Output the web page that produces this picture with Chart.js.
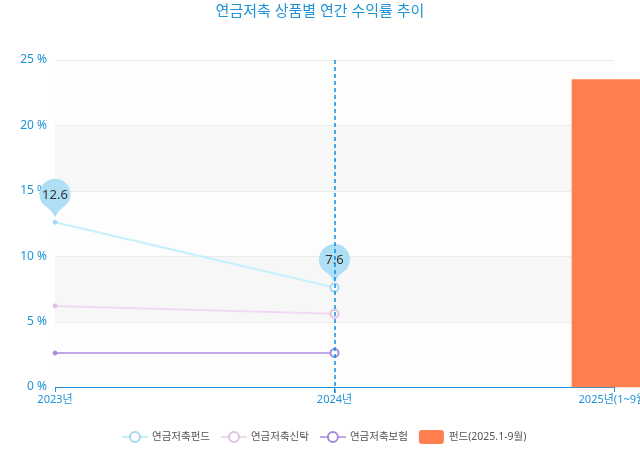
<!DOCTYPE html>
<html>
<head>
<meta charset="utf-8">
<script src="https://cdn.jsdelivr.net/npm/chart.js@4/dist/chart.umd.min.js"></script>
<style>
html,body{margin:0;padding:0;background:#fff;}
#wrap{width:640px;height:450px;position:relative;}
</style>
</head>
<body>
<div id="wrap"><canvas id="c" width="640" height="450"></canvas></div>
<script>
const titleText = '연금저축 상품별 연간 수익률 추이';
const categories = ['2023년', '2024년', '2025년(1~9월)'];
const fundLabel = '연금저축펀드';
const fundValues = [12.6, 7.6, null];
const trustLabel = '연금저축신탁';
const trustValues = [6.2, 5.6, null];
const insLabel = '연금저축보험';
const insValues = [2.6, 2.6, null];
const barLabel = '펀드(2025.1-9월)';
const barValues = [null, null, 23.5];
const yTicks = [0, 5, 10, 15, 20, 25];
const pinPoints = [{series: 0, index: 0}, {series: 0, index: 1}];
const markLineCategory = '2024년';

const BLUE = '#1f93d6';
const FONT = "'Noto Sans', 'Noto Sans CJK KR', sans-serif";

const bandPlugin = {
  id: 'bands',
  beforeDatasetsDraw(chart) {
    const {ctx, chartArea, scales: {y}} = chart;
    ctx.save();
    for (let i = 0; i < yTicks.length - 1; i++) {
      const top = y.getPixelForValue(yTicks[i + 1]);
      const bot = y.getPixelForValue(yTicks[i]);
      ctx.fillStyle = i % 2 === 1 ? '#f7f7f7' : '#fdfdfd';
      ctx.fillRect(chartArea.left, top, chartArea.right - chartArea.left, bot - top);
    }
    ctx.strokeStyle = '#ebebeb';
    ctx.lineWidth = 1;
    for (let i = 1; i < yTicks.length; i++) {
      const py = Math.round(y.getPixelForValue(yTicks[i])) + 0.5;
      ctx.beginPath();
      ctx.moveTo(chartArea.left, py);
      ctx.lineTo(chartArea.right, py);
      ctx.stroke();
    }
    ctx.restore();
  }
};

function drawPin(ctx, x, py, text) {
  const r = 15.5;
  const cx = x, cy = py - 28;
  const tipY = py - 5;
  const th = 0.85;
  ctx.save();
  ctx.fillStyle = '#aedff4';
  ctx.beginPath();
  ctx.arc(cx, cy, r, Math.PI / 2 + th, Math.PI / 2 - th + Math.PI * 2);
  ctx.quadraticCurveTo(cx + 3, tipY - 7, cx, tipY);
  ctx.quadraticCurveTo(cx - 3, tipY - 7, cx - r * Math.sin(th), cy + r * Math.cos(th));
  ctx.closePath();
  ctx.fill();
  ctx.fillStyle = '#333';
  ctx.font = '13px ' + FONT;
  ctx.textAlign = 'center';
  ctx.textBaseline = 'middle';
  ctx.fillText(text, cx, cy + 1);
  ctx.restore();
}

const overlayPlugin = {
  id: 'overlay',
  afterDatasetsDraw(chart) {
    const {ctx, chartArea, scales: {x, y}} = chart;
    pinPoints.forEach(p => {
      const ds = chart.data.datasets[p.series];
      const v = ds.data[p.index];
      drawPin(ctx, x.getPixelForValue(p.index), y.getPixelForValue(v), String(v));
    });
    const mx = Math.round(x.getPixelForValue(categories.indexOf(markLineCategory)));
    ctx.save();
    ctx.strokeStyle = '#0a8fe0';
    ctx.lineWidth = 1.5;
    ctx.setLineDash([4, 3]);
    ctx.beginPath();
    ctx.moveTo(mx, chartArea.top);
    ctx.lineTo(mx, chartArea.bottom + 9);
    ctx.stroke();
    ctx.restore();
  },
  afterDraw(chart) {
    const {ctx} = chart;
    ctx.save();
    ctx.fillStyle = BLUE;
    ctx.font = '15px ' + FONT;
    ctx.textAlign = 'center';
    ctx.textBaseline = 'middle';
    ctx.fillText(titleText, 320, 12);
    ctx.font = '10.5px ' + FONT;
    const items = chart.data.datasets.map(ds => ({label: ds.label, color: ds.borderColor, pt: ds.legendPoint, type: ds.type}));
    const iconW = 26, gapText = 4, gapItem = 11;
    let total = 0;
    items.forEach((it, i) => {
      total += iconW + gapText + ctx.measureText(it.label).width + (i < items.length - 1 ? gapItem : 0);
    });
    let cx = Math.round(320 - total / 2) + 4;
    const ly = 437;
    items.forEach(it => {
      if (it.type === 'bar') {
        ctx.fillStyle = it.color;
        ctx.beginPath();
        ctx.roundRect(cx, ly - 7, 25, 14, 3);
        ctx.fill();
      } else {
        ctx.strokeStyle = it.color;
        ctx.lineWidth = 2;
        ctx.beginPath();
        ctx.moveTo(cx, ly);
        ctx.lineTo(cx + iconW, ly);
        ctx.stroke();
        ctx.fillStyle = '#fff';
        ctx.strokeStyle = it.pt;
        ctx.beginPath();
        ctx.arc(cx + iconW / 2, ly, 5, 0, Math.PI * 2);
        ctx.fill();
        ctx.stroke();
      }
      cx += iconW + gapText;
      ctx.fillStyle = '#555';
      ctx.textAlign = 'left';
      ctx.fillText(it.label, cx, ly);
      cx += ctx.measureText(it.label).width + gapItem;
    });
    ctx.restore();
  }
};

function lineDs(label, data, color, ptColor) {
  return {
    type: 'line', label, data,
    borderColor: color, backgroundColor: [ptColor, '#fff'],
    pointBorderColor: [ptColor, ptColor],
    pointBackgroundColor: [ptColor, '#fff'],
    pointRadius: [2, 4], pointBorderWidth: [1, 2],
    borderWidth: 2, tension: 0, legendPoint: ptColor, order: 1
  };
}

new Chart(document.getElementById('c'), {
  data: {
    labels: categories,
    datasets: [
      lineDs(fundLabel, fundValues, '#c4f1fc', '#a7d8ef'),
      lineDs(trustLabel, trustValues, '#f2d9f3', '#dfc0e6'),
      lineDs(insLabel, insValues, '#c1a6ea', '#a58cd8'),
      {type: 'bar', label: barLabel, data: barValues, backgroundColor: '#ff7f50', borderColor: '#ff7f50',
       barThickness: 84, clip: false, order: 2}
    ]
  },
  plugins: [bandPlugin, overlayPlugin],
  options: {
    responsive: false,
    animation: false,
    devicePixelRatio: 1,
    events: [],
    layout: {padding: {top: 60, right: 26, left: 0, bottom: 0}},
    plugins: {legend: {display: false}, title: {display: false}, tooltip: {enabled: false}},
    scales: {
      x: {
        offset: false,
        grid: {display: true, offset: false, drawOnChartArea: false, drawTicks: true, tickLength: 5, color: BLUE, lineWidth: 1},
        border: {display: true, color: BLUE, width: 1},
        ticks: {color: BLUE, font: {size: 11, family: FONT}, maxRotation: 0, autoSkip: false, padding: 1},
        afterFit(s) { s.height = 63; s.paddingLeft = 0; s.paddingRight = 0; }
      },
      y: {
        min: 0, max: 25,
        afterBuildTicks(s) { s.ticks = yTicks.map(v => ({value: v})); },
        grid: {display: false, drawTicks: true, tickLength: 8},
        border: {display: false},
        ticks: {color: BLUE, font: {size: 12, family: FONT}, padding: 0, callback: v => v + ' %'},
        afterFit(s) { s.width = 55; }
      }
    }
  }
});
</script>
</body>
</html>
